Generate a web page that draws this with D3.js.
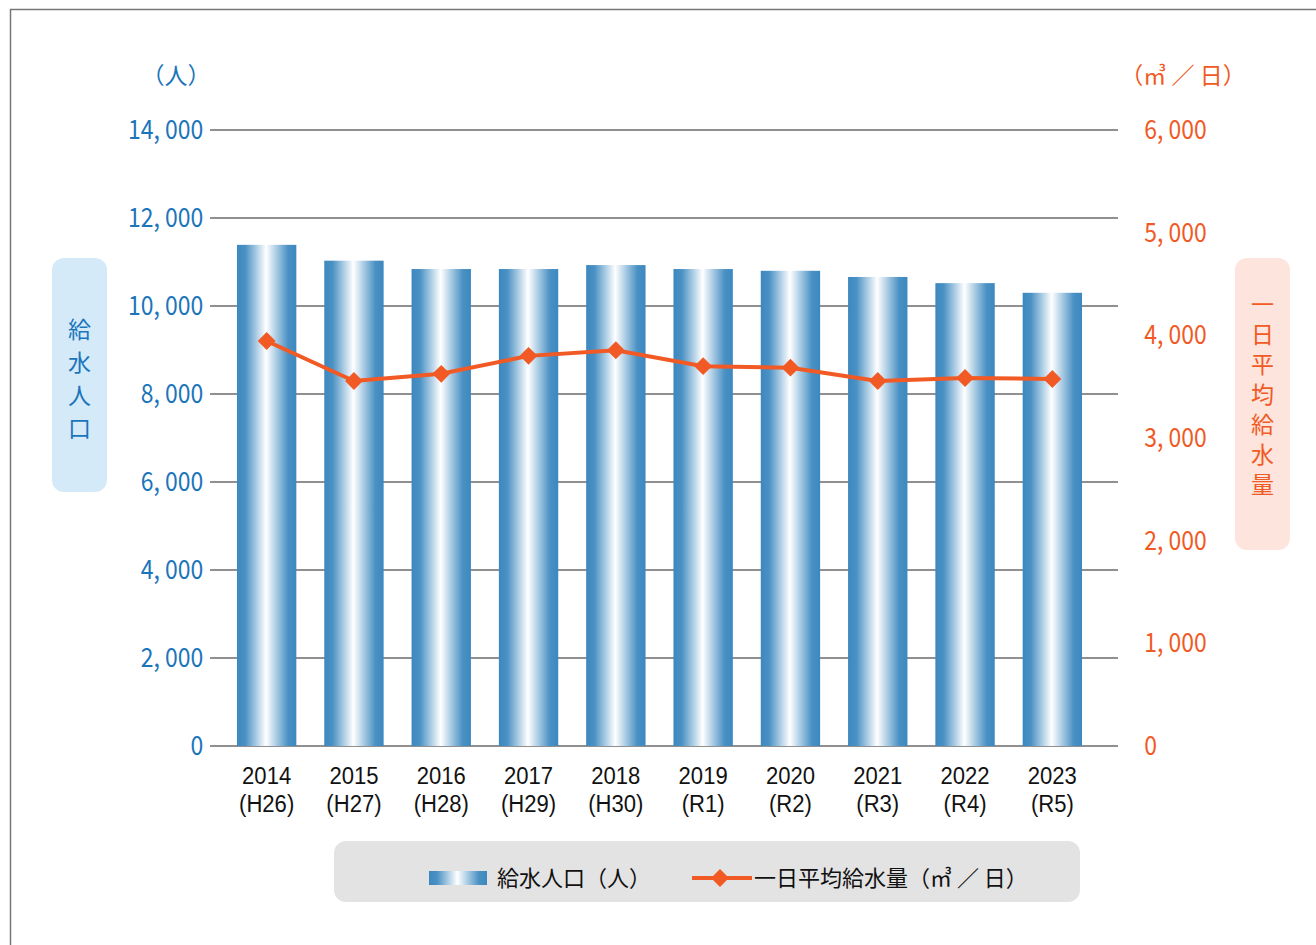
<!DOCTYPE html>
<html>
<head>
  <meta charset="utf-8">
  <title>給水人口と一日平均給水量</title>
  <script src="https://cdnjs.cloudflare.com/ajax/libs/d3/7.8.5/d3.min.js"></script>
  <style>
    body { margin: 0; background: #fff; }
    text { font-family: "Noto Sans CJK JP", "Noto Sans", sans-serif; }
  </style>
</head>
<body>
  <div id="chart"></div>
  <script>
    // data
    const years = ["2014", "2015", "2016", "2017", "2018", "2019", "2020", "2021", "2022", "2023"];
    const eras = ["(H26)", "(H27)", "(H28)", "(H29)", "(H30)", "(R1)", "(R2)", "(R3)", "(R4)", "(R5)"];
    const population = [11390, 11030, 10840, 10840, 10930, 10840, 10800, 10660, 10520, 10300];
    const dailySupply = [3945, 3555, 3625, 3800, 3855, 3700, 3685, 3555, 3585, 3575];
    const leftTicks = [0, 2000, 4000, 6000, 8000, 10000, 12000, 14000];
    const rightTicks = [0, 1000, 2000, 3000, 4000, 5000, 6000];

    const width = 1316, height = 945;
    const blue = "#1b75bb", orange = "#f15a24";
    const squeeze = "scale(0.85,1)";   // narrow look of the original font
    const fmt = d => d === 0 ? "0" : d3.format(",")(d).replace(",", ", ");

    const svg = d3.select("#chart").append("svg")
      .attr("width", width)
      .attr("height", height);

    // outer frame (only top and left edges visible)
    svg.append("path")
      .attr("d", `M10.5,${height} V9.5 H${width}`)
      .attr("fill", "none")
      .attr("stroke", "#777")
      .attr("stroke-width", 1.5);

    // gradient for bars
    const defs = svg.append("defs");
    const grad = defs.append("linearGradient")
      .attr("id", "barGrad")
      .attr("x1", "0%").attr("x2", "100%").attr("y1", "0%").attr("y2", "0%");
    grad.append("stop").attr("offset", "0%").attr("stop-color", "#3c88bf");
    grad.append("stop").attr("offset", "14%").attr("stop-color", "#4a91c4");
    grad.append("stop").attr("offset", "49%").attr("stop-color", "#ffffff");
    grad.append("stop").attr("offset", "86%").attr("stop-color", "#4a91c4");
    grad.append("stop").attr("offset", "100%").attr("stop-color", "#3c88bf");

    const plotLeft = 210, plotRight = 1118;
    const yTop = 130, yBottom = 746;

    const x = d3.scaleBand()
      .domain(years)
      .range([223, 1096])
      .paddingInner(0.32)
      .paddingOuter(0.16);

    const yL = d3.scaleLinear().domain([0, 14000]).range([yBottom, yTop]);
    const yR = d3.scaleLinear().domain([0, 6000]).range([yBottom, yTop]);

    // gridlines
    svg.append("g")
      .selectAll("line")
      .data(leftTicks)
      .join("line")
      .attr("x1", plotLeft).attr("x2", plotRight)
      .attr("y1", d => yL(d)).attr("y2", d => yL(d))
      .attr("stroke", "#222")
      .attr("stroke-width", 1.2);

    // left axis (labels only)
    const leftAxis = svg.append("g")
      .attr("transform", `translate(${plotLeft},0)`)
      .call(d3.axisLeft(yL).tickValues(leftTicks).tickFormat(fmt).tickSize(0).tickPadding(8));
    leftAxis.select(".domain").remove();
    leftAxis.selectAll("text")
      .attr("fill", blue)
      .attr("transform", squeeze)
      .style("font-size", "27px")
      .style("font-family", "'Noto Sans CJK JP', sans-serif");

    // right axis (labels only)
    const rightAxis = svg.append("g")
      .attr("transform", `translate(${plotRight},0)`)
      .call(d3.axisRight(yR).tickValues(rightTicks).tickFormat(fmt).tickSize(0).tickPadding(31));
    rightAxis.select(".domain").remove();
    rightAxis.selectAll("text")
      .attr("fill", orange)
      .attr("transform", squeeze)
      .style("font-size", "27px")
      .style("font-family", "'Noto Sans CJK JP', sans-serif");

    // bars
    svg.append("g")
      .selectAll("rect")
      .data(population)
      .join("rect")
      .attr("x", (d, i) => x(years[i]))
      .attr("y", d => yL(d))
      .attr("width", x.bandwidth())
      .attr("height", d => yBottom - yL(d))
      .attr("fill", "url(#barGrad)");

    // line
    const line = d3.line()
      .x((d, i) => x(years[i]) + x.bandwidth() / 2)
      .y(d => yR(d));
    svg.append("path")
      .datum(dailySupply)
      .attr("d", line)
      .attr("fill", "none")
      .attr("stroke", orange)
      .attr("stroke-width", 4);

    svg.append("g")
      .selectAll("path")
      .data(dailySupply)
      .join("path")
      .attr("d", d3.symbol(d3.symbolSquare, 160))
      .attr("transform", (d, i) => `translate(${x(years[i]) + x.bandwidth() / 2},${yR(d)}) rotate(45)`)
      .attr("fill", orange);

    // x labels (Liberation Sans keeps the two rows from colliding)
    const xl = svg.append("g");
    years.forEach((yr, i) => {
      const cx = x(yr) + x.bandwidth() / 2;
      xl.append("text")
        .attr("transform", `translate(${cx},784) scale(0.92,1)`)
        .attr("text-anchor", "middle")
        .style("font-family", "'Liberation Sans', Arial, sans-serif")
        .style("font-size", "24px")
        .attr("fill", "#111")
        .text(yr);
      xl.append("text")
        .attr("transform", `translate(${cx},812) scale(0.92,1)`)
        .attr("text-anchor", "middle")
        .style("font-family", "'Liberation Sans', Arial, sans-serif")
        .style("font-size", "24px")
        .attr("fill", "#111")
        .text(eras[i]);
    });

    // unit labels
    svg.append("text")
      .attr("x", 176).attr("y", 84)
      .attr("text-anchor", "middle")
      .attr("fill", blue)
      .style("font-size", "23px")
      .text("（人）");
    svg.append("text")
      .attr("x", 1183).attr("y", 84)
      .attr("text-anchor", "middle")
      .attr("fill", orange)
      .style("font-size", "23px")
      .text("（㎥ ／ 日）");

    // left axis title box (vertical text)
    svg.append("rect")
      .attr("x", 52).attr("y", 258).attr("width", 55).attr("height", 234)
      .attr("rx", 12)
      .attr("fill", "#d5eaf9");
    svg.append("text")
      .attr("x", 79.5).attr("y", 318)
      .style("writing-mode", "vertical-rl")
      .style("letter-spacing", "10px")
      .attr("fill", blue)
      .style("font-size", "23px")
      .text("給水人口");

    // right axis title box (vertical text)
    svg.append("rect")
      .attr("x", 1235).attr("y", 258).attr("width", 55).attr("height", 292)
      .attr("rx", 12)
      .attr("fill", "#fde4dc");
    svg.append("text")
      .attr("x", 1262.5).attr("y", 293)
      .style("writing-mode", "vertical-rl")
      .style("letter-spacing", "7px")
      .attr("fill", orange)
      .style("font-size", "23px")
      .text("一日平均給水量");

    // legend
    const lg = svg.append("g");
    lg.append("rect")
      .attr("x", 334).attr("y", 841).attr("width", 746).attr("height", 61)
      .attr("rx", 12)
      .attr("fill", "#e3e3e3");
    lg.append("rect")
      .attr("x", 429).attr("y", 871).attr("width", 58).attr("height", 14)
      .attr("fill", "url(#barGrad)");
    lg.append("text")
      .attr("x", 497).attr("y", 886)
      .attr("fill", "#111")
      .style("font-size", "22px")
      .text("給水人口（人）");
    lg.append("line")
      .attr("x1", 692).attr("x2", 752).attr("y1", 878).attr("y2", 878)
      .attr("stroke", orange).attr("stroke-width", 4);
    lg.append("path")
      .attr("d", d3.symbol(d3.symbolSquare, 160))
      .attr("transform", "translate(720,878) rotate(45)")
      .attr("fill", orange);
    lg.append("text")
      .attr("x", 754).attr("y", 886)
      .attr("fill", "#111")
      .style("font-size", "22px")
      .text("一日平均給水量（㎥ ／ 日）");
  </script>
</body>
</html>
